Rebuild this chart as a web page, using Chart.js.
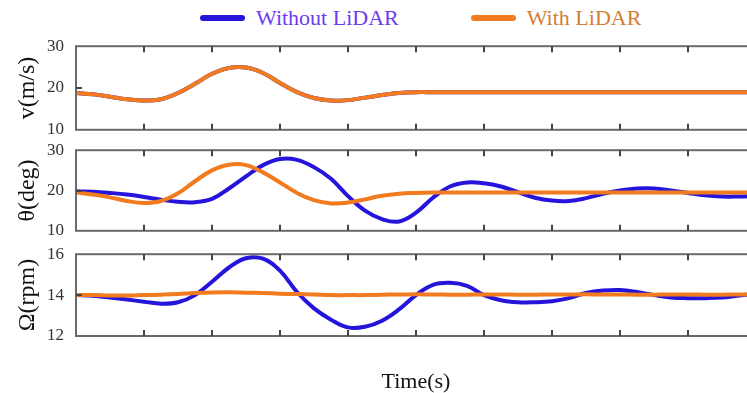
<!DOCTYPE html>
<html>
<head>
<meta charset="utf-8">
<title>LiDAR response</title>
<script src="https://cdn.jsdelivr.net/npm/chart.js@4.4.1/dist/chart.umd.min.js"></script>
<style>
  html, body { margin: 0; padding: 0; background: #fff; width: 747px; height: 393px; overflow: hidden; position: relative; }
  .panel { position: absolute; left: 0; width: 760px; }
  #legend { position: absolute; top: 5px; left: 200px; display: flex; align-items: center;
            font-family: "Liberation Serif", "Times New Roman", serif; font-size: 22px; white-space: nowrap; }
  #legend .item { display: flex; align-items: center; margin-right: 72px; }
  #legend .bar { width: 45px; height: 6px; border-radius: 3px; margin-right: 11px; }
</style>
</head>
<body>
<div id="legend"></div>
<div class="panel" style="top:24px;height:128px"><canvas id="speedChart"></canvas></div>
<div class="panel" style="top:128px;height:125px"><canvas id="angleChart"></canvas></div>
<div class="panel" style="top:232px;height:161px"><canvas id="rotorChart"></canvas></div>
<script>
// time axis (s) and tick marks
const time = [0, 0.25, 0.5, 0.75, 1, 1.25, 1.5, 1.75, 2, 2.25, 2.5, 2.75, 3, 3.25, 3.5, 3.75, 4, 4.25, 4.5, 4.75, 5,
  5.25, 5.5, 5.75, 6, 6.25, 6.5, 6.75, 7, 7.25, 7.5, 7.75, 8, 8.25, 8.5, 8.75, 9, 9.25, 9.5, 9.75, 10];
const timeTicks = [1, 2, 3, 4, 5, 6, 7, 8, 9];

const seriesNames = ["Without LiDAR", "With LiDAR"];
const seriesColors = ["#2414dc", "#f27a1f"];
const legendTextColors = ["#6b3cf0", "#d27e34"];

// v (m/s) - both cases follow the same speed profile
const speedData = [18.8, 18.5, 17.9, 17.3, 17.0, 17.3, 18.8, 21.0, 23.4, 24.8, 24.9, 23.6, 21.2, 19.0, 17.6, 17.0,
  17.1, 17.7, 18.3, 18.8, 19.0, 19.0, 19.0, 19.0, 19.0, 19.0, 19.0, 19.0, 19.0, 19.0, 19.0, 19.0, 19.0, 19.0,
  19.0, 19.0, 19.0, 19.0, 19.0, 19.0, 19.0];

// theta (deg)
const thetaWithout = [19.8, 19.7, 19.4, 19.0, 18.4, 17.7, 17.2, 17.1, 17.9, 20.5, 23.5, 26.3, 27.8, 27.6, 25.8, 22.9,
  18.6, 15.0, 12.9, 12.3, 14.5, 18.2, 21.0, 22.0, 21.8, 21.0, 19.6, 18.2, 17.5, 17.4, 18.1, 19.2, 20.0, 20.5,
  20.5, 20.0, 19.4, 18.8, 18.5, 18.5, 18.6];
const thetaWith = [19.5, 19.0, 18.3, 17.4, 16.9, 17.4, 19.3, 22.3, 25.0, 26.4, 26.3, 24.5, 22.0, 19.4, 17.6, 16.8,
  17.0, 17.8, 18.7, 19.2, 19.4, 19.5, 19.5, 19.5, 19.5, 19.5, 19.5, 19.5, 19.5, 19.5, 19.5, 19.5, 19.5, 19.5,
  19.5, 19.5, 19.5, 19.5, 19.5, 19.5, 19.5];

// Omega (rpm)
const omegaWithout = [14.0, 13.97, 13.88, 13.78, 13.68, 13.58, 13.65, 14.0, 14.65, 15.35, 15.8, 15.78, 15.2, 14.15,
  13.35, 12.8, 12.42, 12.45, 12.75, 13.3, 14.0, 14.5, 14.6, 14.45, 14.0, 13.75, 13.65, 13.65, 13.7, 13.85, 14.1,
  14.22, 14.25, 14.15, 14.0, 13.88, 13.85, 13.85, 13.88, 13.98, 14.05];
const omegaWith = [14.0, 14.0, 13.98, 13.98, 14.0, 14.02, 14.05, 14.1, 14.13, 14.14, 14.12, 14.1, 14.07, 14.05,
  14.03, 14.0, 14.0, 14.0, 14.02, 14.03, 14.04, 14.03, 14.02, 14.02, 14.03, 14.03, 14.02, 14.02, 14.03, 14.03,
  14.04, 14.03, 14.03, 14.02, 14.02, 14.03, 14.03, 14.02, 14.02, 14.03, 14.03];

const SERIF = "Liberation Serif";

// box + inward tick marks like the original figure
const framePlugin = {
  id: "frame",
  afterDatasetsDraw(chart) {
    const { ctx, chartArea: a, scales } = chart;
    ctx.save();
    ctx.strokeStyle = "#6a6a6a";
    ctx.lineWidth = 2;
    ctx.strokeRect(a.left, a.top, a.right - a.left, a.bottom - a.top);
    ctx.strokeStyle = "#444";
    ctx.beginPath();
    timeTicks.forEach((t) => {
      const px = Math.round(scales.x.getPixelForValue(t));
      ctx.moveTo(px, a.top);
      ctx.lineTo(px, a.top + 6);
      ctx.moveTo(px, a.bottom);
      ctx.lineTo(px, a.bottom - 6);
    });
    const y = scales.y;
    const mid = Math.round(y.getPixelForValue((y.min + y.max) / 2));
    ctx.moveTo(a.left, mid);
    ctx.lineTo(a.left + 6, mid);
    ctx.stroke();
    ctx.restore();
  },
};

function toPoints(values) {
  return time.map((t, i) => ({ x: t, y: values[i] }));
}

function makePanel(canvasId, title, min, max, step, without, withL, showTime) {
  return new Chart(document.getElementById(canvasId), {
    type: "line",
    data: {
      datasets: [
        { label: seriesNames[0], data: toPoints(without), borderColor: seriesColors[0], borderWidth: 4, order: 1 },
        { label: seriesNames[1], data: toPoints(withL), borderColor: seriesColors[1], borderWidth: 4, order: 0 },
      ],
    },
    options: {
      responsive: true,
      maintainAspectRatio: false,
      animation: false,
      layout: { padding: { top: 0, bottom: 0, left: 0, right: 4 } },
      elements: { point: { radius: 0 }, line: { tension: 0.4 } },
      plugins: { legend: { display: false }, tooltip: { enabled: false } },
      scales: {
        x: {
          type: "linear",
          min: 0,
          max: 10,
          display: showTime,
          ticks: { display: false, stepSize: 1 },
          grid: { display: false, drawTicks: false },
          border: { display: false },
          title: {
            display: showTime,
            text: "Time(s)",
            color: "#111",
            font: { family: SERIF, size: 22 },
            padding: { top: 0, bottom: -2 },
          },
          afterFit(scale) { if (showTime) scale.height = 57; },
        },
        y: {
          min,
          max,
          ticks: { stepSize: step, color: "#333", padding: 12, font: { family: SERIF, size: 17 } },
          grid: { display: false, drawTicks: false },
          border: { display: false },
          title: {
            display: true,
            text: title,
            color: "#111",
            font: { family: SERIF, size: 24 },
            padding: { top: 13, bottom: 0 },
          },
          afterFit(scale) { scale.width = 76; },
        },
      },
    },
    plugins: [framePlugin],
  });
}

const speedChart = makePanel("speedChart", "v(m/s)", 10, 30, 10, speedData, speedData, false);
makePanel("angleChart", "\u03b8(deg)", 10, 30, 10, thetaWithout, thetaWith, false);
makePanel("rotorChart", "\u03a9(rpm)", 12, 16, 2, omegaWithout, omegaWith, true);

// HTML legend built from the chart's own legend items
function renderLegend(chart) {
  const box = document.getElementById("legend");
  const items = Chart.defaults.plugins.legend.labels.generateLabels(chart)
    .sort((a, b) => a.datasetIndex - b.datasetIndex);
  box.innerHTML = "";
  items.forEach((it) => {
    const el = document.createElement("div");
    el.className = "item";
    el.innerHTML = `<span class="bar" style="background:${it.strokeStyle}"></span>` +
      `<span style="color:${legendTextColors[it.datasetIndex]}">${it.text}</span>`;
    box.appendChild(el);
  });
}
renderLegend(speedChart);
</script>
</body>
</html>
